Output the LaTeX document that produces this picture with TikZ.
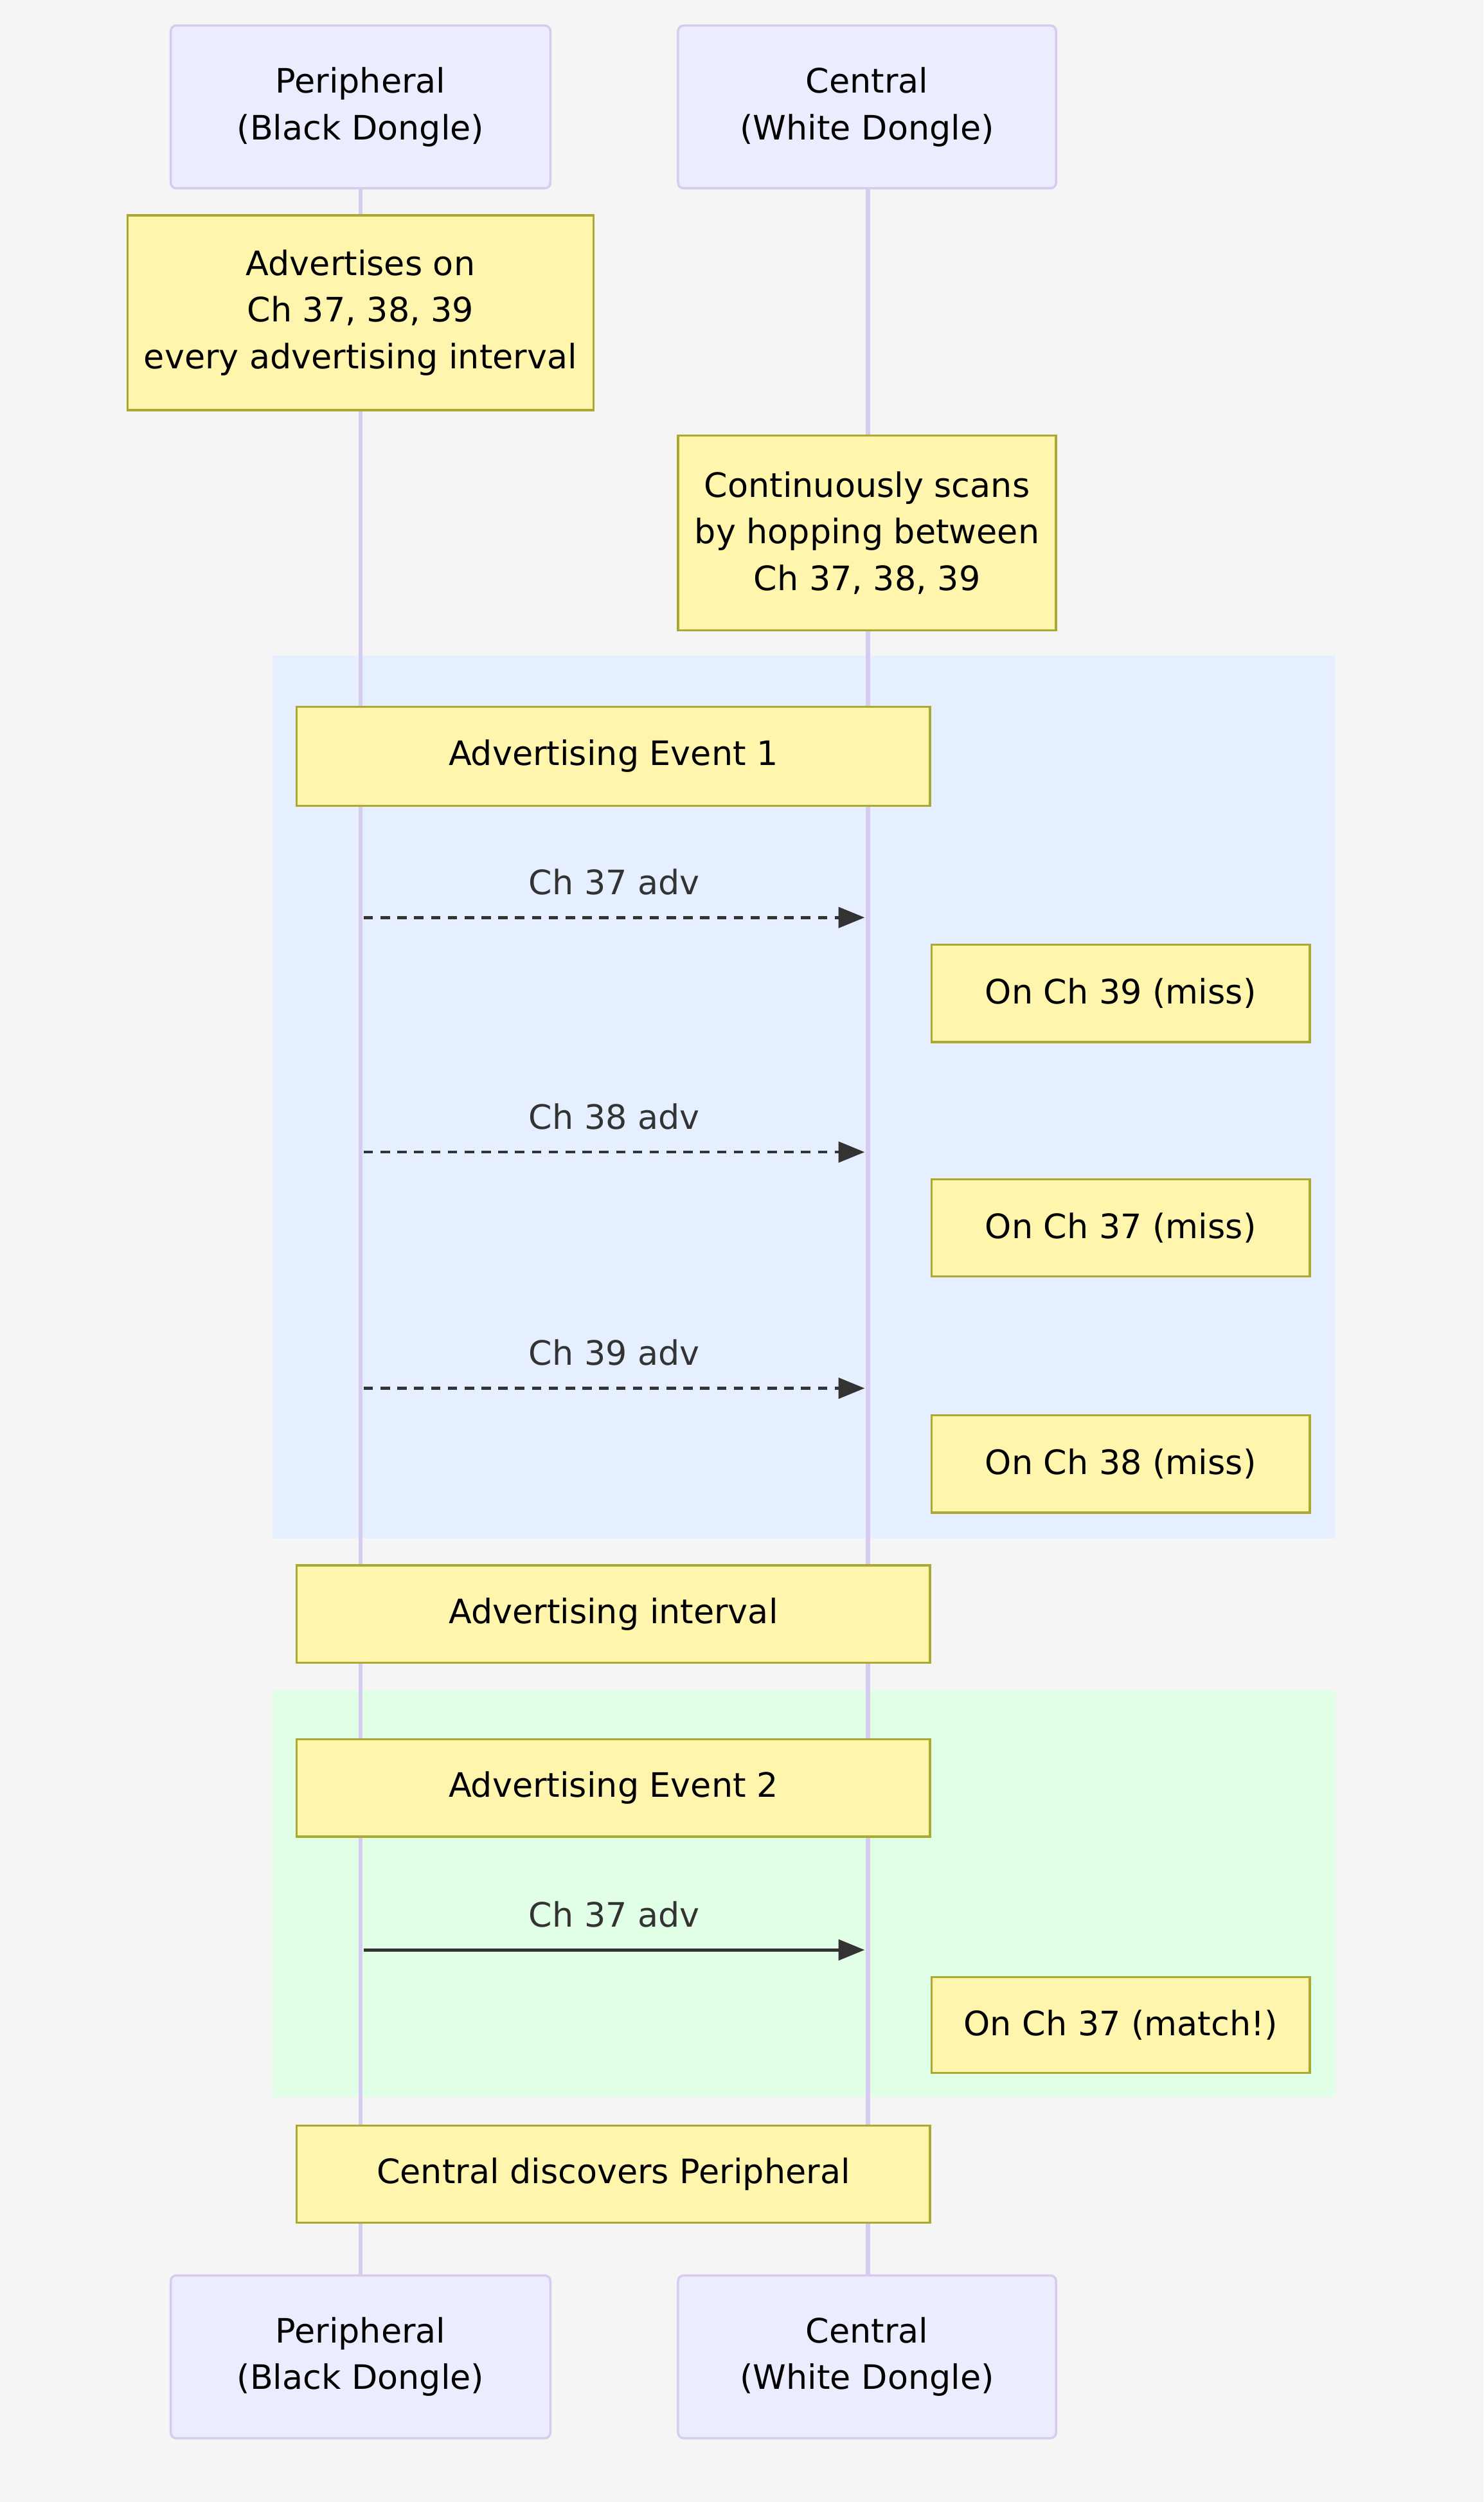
\documentclass[tikz,border=0pt]{standalone}
\usepackage{fontspec}
\setmainfont{DejaVu Sans}
\usetikzlibrary{arrows.meta}
\definecolor{bg}{HTML}{F5F5F5}
\definecolor{actfill}{HTML}{ECECFF}
\definecolor{actline}{HTML}{D6CCF0}
\definecolor{notefill}{HTML}{FFF5AD}
\definecolor{noteline}{HTML}{AAAA33}
\definecolor{rblue}{HTML}{E6EFFF}
\definecolor{rgreen}{HTML}{E0FFE6}
\definecolor{txt}{HTML}{333333}
\begin{document}
\begin{tikzpicture}[x=0.03cm,y=-0.03cm,
  font=\fontsize{18}{25}\selectfont,
  actor/.style={draw=actline,fill=actfill,line width=1.2pt,rounded corners=3pt,align=center},
  note/.style={draw=noteline,fill=notefill,line width=1.2pt,align=center},
  life/.style={draw=actline,line width=2.2pt},
  msg/.style={draw=txt,line width=1.6pt,-{Triangle[length=14pt,width=11pt]}},
  lbl/.style={text=txt,anchor=base}]
\path[fill=bg] (0,0) rectangle (930,1568);
\useasboundingbox (0,0) rectangle (930,1568);
\path[fill=rblue] (171,411) rectangle (837,964);
\path[fill=rgreen] (171,1059) rectangle (837,1314);
\coordinate (p1) at (226,118); \coordinate (p2) at (226,1426);
\coordinate (c1) at (544,118); \coordinate (c2) at (544,1426);
\draw[life] (p1) -- (p2);
\draw[life] (c1) -- (c2);
\newcommand\rbox[6]{\draw[#1] (#2,#3) rectangle (#4,#5); \node[align=center] at ({(#2+#4)/2},{(#3+#5)/2}) {#6};}
\rbox{actor}{107}{16}{345}{118}{Peripheral\\(Black Dongle)}
\rbox{actor}{425}{16}{662}{118}{Central\\(White Dongle)}
\rbox{actor}{107}{1426}{345}{1528}{Peripheral\\(Black Dongle)}
\rbox{actor}{425}{1426}{662}{1528}{Central\\(White Dongle)}
\rbox{note}{80}{135}{372}{257}{Advertises on\\Ch 37, 38, 39\\every advertising interval}
\rbox{note}{425}{273}{662}{395}{Continuously scans\\by hopping between\\Ch 37, 38, 39}
\rbox{note}{186}{443}{583}{505}{Advertising Event 1}
\rbox{note}{584}{592}{821}{653}{On Ch 39 (miss)}
\rbox{note}{584}{739}{821}{800}{On Ch 37 (miss)}
\rbox{note}{584}{887}{821}{948}{On Ch 38 (miss)}
\rbox{note}{186}{981}{583}{1042}{Advertising interval}
\rbox{note}{186}{1090}{583}{1151}{Advertising Event 2}
\rbox{note}{584}{1239}{821}{1299}{On Ch 37 (match!)}
\rbox{note}{186}{1332}{583}{1393}{Central discovers Peripheral}
\coordinate (a1) at (228,575); \coordinate (b1) at (542,575);
\coordinate (a2) at (228,722); \coordinate (b2) at (542,722);
\coordinate (a3) at (228,870); \coordinate (b3) at (542,870);
\coordinate (a4) at (228,1222); \coordinate (b4) at (542,1222);
\draw[msg,dashed,dash pattern=on 5pt off 4pt] (a1) -- node[lbl,above=8pt]{Ch 37 adv} (b1);
\draw[msg,dashed,dash pattern=on 5pt off 4pt] (a2) -- node[lbl,above=8pt]{Ch 38 adv} (b2);
\draw[msg,dashed,dash pattern=on 5pt off 4pt] (a3) -- node[lbl,above=8pt]{Ch 39 adv} (b3);
\draw[msg] (a4) -- node[lbl,above=8pt]{Ch 37 adv} (b4);
\end{tikzpicture}
\end{document}
